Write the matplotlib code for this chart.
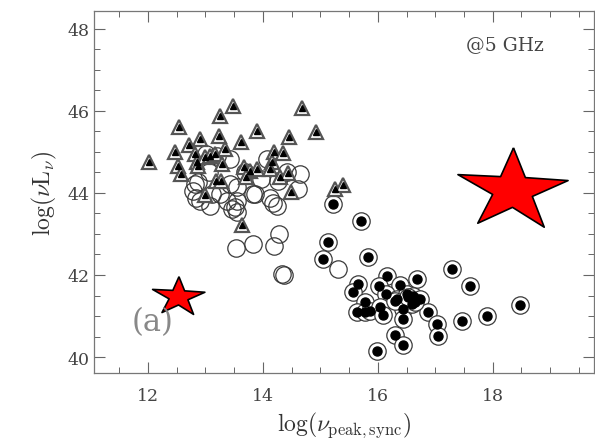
import matplotlib
matplotlib.use('Agg')
import matplotlib.pyplot as plt
import numpy as np
from matplotlib.ticker import MultipleLocator

plt.rcParams['mathtext.fontset'] = 'cm'
plt.rcParams['font.family'] = 'DejaVu Serif'

# triangles (filled triangle in open triangle)
tri_x = [12.02, 12.54, 12.47, 12.52, 12.57, 12.71, 12.90, 12.82, 12.85, 12.87,
         12.99, 13.08, 13.17, 13.25, 13.23, 13.34, 13.29, 13.48, 13.62, 13.18,
         13.27, 12.99, 13.90, 13.67, 13.77, 13.90, 13.70, 13.63, 14.19, 14.35,
         14.16, 14.12, 14.30, 14.43, 14.45, 14.49, 14.68, 14.92, 15.25, 15.39]
tri_y = [44.76, 45.61, 45.00, 44.66, 44.46, 45.17, 45.32, 44.95, 44.76, 44.66,
         44.88, 44.90, 44.95, 45.88, 45.39, 45.07, 44.71, 46.12, 45.24, 44.29,
         44.29, 43.95, 45.51, 44.63, 44.54, 44.59, 44.39, 43.22, 45.00, 44.98,
         44.76, 44.59, 44.39, 44.49, 45.37, 44.02, 46.07, 45.49, 44.10, 44.20]

# open circles
oc_x = [12.82, 12.83, 13.08, 13.06, 13.25, 13.43, 13.55, 13.55, 13.55, 13.69,
        13.83, 13.97, 14.07, 14.12, 14.17, 14.24, 14.26, 14.42, 14.61, 14.64,
        13.20, 13.01, 13.53, 13.83, 14.19, 14.28, 14.37, 14.33, 15.30, 12.87,
        12.78, 12.90, 13.11, 13.37, 13.46, 13.43, 13.86, 13.51]
oc_y = [44.22, 43.88, 43.68, 44.51, 43.98, 44.83, 44.15, 43.80, 43.54, 44.51,
        43.98, 44.34, 44.83, 43.88, 43.76, 43.68, 44.29, 44.51, 44.10, 44.46,
        44.90, 44.95, 42.66, 42.76, 42.71, 43.00, 42.00, 42.02, 42.15, 44.27,
        44.05, 43.80, 43.98, 43.80, 43.61, 44.22, 43.98, 43.66]

# circles with dot
dc_x = [15.22, 15.70, 15.13, 15.04, 15.83, 17.29, 17.60, 16.16, 16.68, 15.65,
        15.57, 16.02, 16.38, 16.14, 16.33, 16.50, 16.61, 16.73, 15.77, 15.63,
        15.77, 15.86, 16.03, 16.09, 16.43, 16.43, 16.59, 16.87, 17.03, 17.04,
        17.46, 17.90, 18.47, 16.30, 16.43, 15.98, 16.30, 16.64, 16.52]
dc_y = [43.73, 43.32, 42.80, 42.39, 42.44, 42.15, 41.73, 41.98, 41.90, 41.78,
        41.59, 41.73, 41.76, 41.54, 41.41, 41.54, 41.49, 41.41, 41.34, 41.10,
        41.10, 41.12, 41.22, 41.02, 41.17, 40.93, 41.29, 41.10, 40.80, 40.51,
        40.88, 41.00, 41.27, 40.54, 40.29, 40.15, 41.37, 41.34, 41.46]

star_x = [18.33, 12.52]
star_y = [44.10, 41.49]
star_size = [80, 38]

# slightly wide star shape as seen in the picture
star_verts = [(1, 42), (-12, 13), (-55, 15), (-20, -5), (-35, -34), (0, -18),
              (32, -38), (20, -7), (56, 9), (13, 12), (1, 42)]

fig = plt.figure(figsize=(5.95, 4.39), dpi=100)
ax = fig.add_axes([0.158, 0.148, 0.840, 0.825])

ax.plot(oc_x, oc_y, 'o', ms=12.5, mfc='none', mec='#3a3a3a', mew=0.9)
ax.plot(dc_x, dc_y, 'o', ms=12.5, mfc='white', mec='#3a3a3a', mew=0.9)
ax.plot(dc_x, dc_y, 'o', ms=6.5, mfc='black', mec='black')
ax.plot(tri_x, tri_y, '^', ms=10, mfc='white', mec='#555555', mew=1.6)
ax.plot(tri_x, tri_y, '^', ms=5, mfc='black', mec='black')

for sx, sy, ss in zip(star_x, star_y, star_size):
    ax.plot(sx, sy, marker=star_verts, ms=ss, mfc='red', mec='black', mew=1.2)

ax.set_xlim(11.06, 19.76)
ax.set_ylim(39.61, 48.44)
ax.xaxis.set_major_locator(MultipleLocator(2))
ax.xaxis.set_minor_locator(MultipleLocator(0.5))
ax.yaxis.set_major_locator(MultipleLocator(2))
ax.yaxis.set_minor_locator(MultipleLocator(0.5))
ax.tick_params(which='both', direction='in', top=True, right=True, colors='#666666',
               labelcolor='#444444', labelsize=12.5)
ax.tick_params(which='major', length=8, width=0.8)
ax.tick_params(which='minor', length=4, width=0.7)
ax.tick_params(axis='x', which='major', pad=10)
for sp in ax.spines.values():
    sp.set_color('#777777')
    sp.set_linewidth(0.9)

ax.set_xlabel(r'$\log(\nu_{\rm peak,sync})$', fontsize=17, color='#333333', labelpad=4)
ax.set_ylabel(r'$\log(\nu {\rm L}_\nu)$', fontsize=17, color='#333333', labelpad=6)

ax.text(0.822, 0.909, '@5 GHz', transform=ax.transAxes, fontsize=13.5,
        color='#444444', ha='center', va='center')
ax.text(0.118, 0.141, '(a)', transform=ax.transAxes, fontsize=22,
        color='#888888', ha='center', va='center')

fig.savefig('out.png', dpi=100)
